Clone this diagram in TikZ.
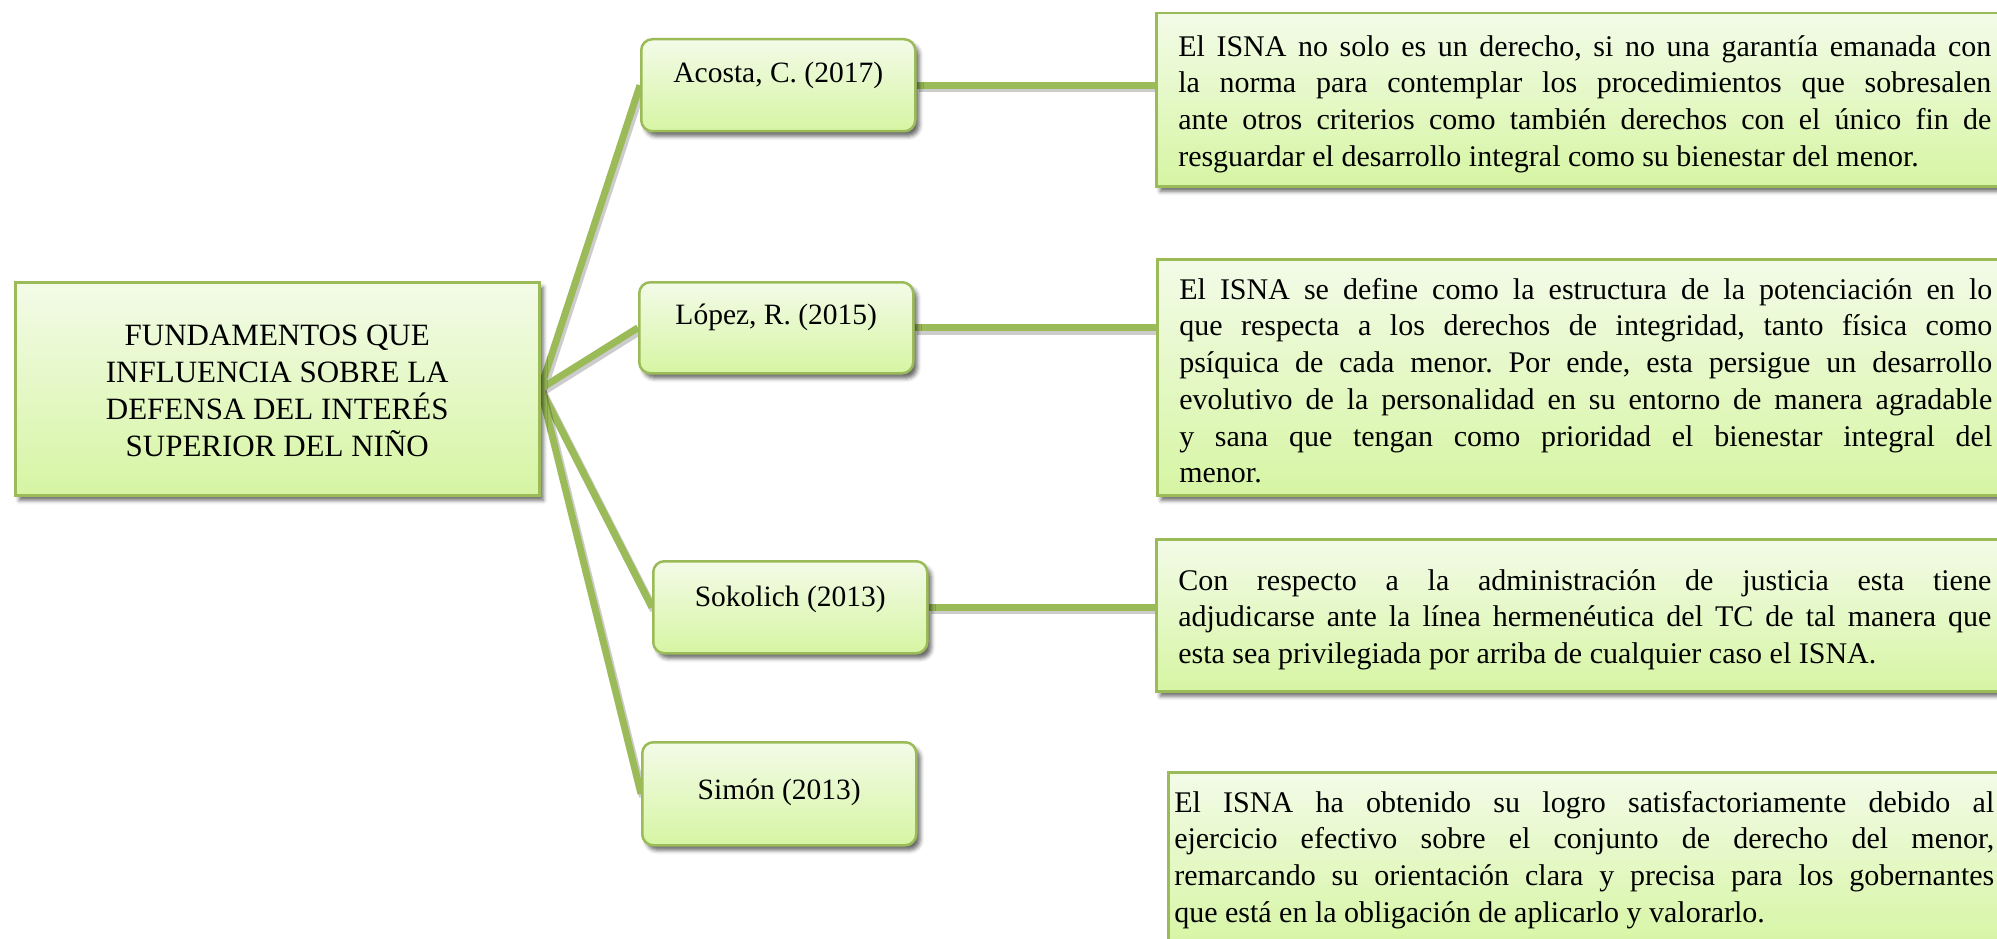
\documentclass[tikz,border=0pt]{standalone}
\usepackage{fontspec}
\setmainfont{Liberation Serif}
\usetikzlibrary{shadows.blur}
\definecolor{bgreen}{RGB}{155,187,89}
\definecolor{ftop}{RGB}{243,251,232}
\definecolor{fbot}{RGB}{214,245,163}
\pgfdeclarelayer{bg}
\pgfsetlayers{bg,main}
\frenchspacing
\tolerance=10000
\pretolerance=-1
\hyphenpenalty=10000
\tikzset{
  boxbase/.style={draw=bgreen, line width=2.5pt, top color=ftop, bottom color=fbot,
    inner sep=0pt, anchor=north west,
    blur shadow={shadow xshift=4pt, shadow yshift=-5pt, shadow blur radius=4pt, shadow opacity=60}},
  mainbox/.style={boxbase, minimum width=524pt, align=center,
    text height=174pt, text depth=39pt,
    font=\fontsize{31}{37}\selectfont},
  authbox/.style n args={2}{boxbase, rounded corners=11pt, minimum width=274pt,
    text height=#1, text depth=#2, font=\fontsize{29.5}{35}\selectfont},
  textbox/.style n args={2}{boxbase, inner xsep=22pt, text width=813pt, align=justify,
    text height=#1, text depth=#2,
    font=\fontsize{30}{36.7}\selectfont},
  conn/.style={draw=bgreen, line width=7pt,
    preaction={draw=black, opacity=0.2, line width=8pt, transform canvas={shift={(2pt,-3pt)}}}}
}
\begin{document}
\begin{tikzpicture}[x=1pt, y=-1pt]
\useasboundingbox (0,0) rectangle (1997,939);

\node[mainbox] (M) at (14,281) {FUNDAMENTOS QUE\\INFLUENCIA SOBRE LA\\DEFENSA DEL INTERÉS\\SUPERIOR DEL NIÑO};

\node[authbox={43pt}{49pt}] (A1) at (640,38) {Acosta, C. (2017)};
\node[authbox={42pt}{49pt}] (A2) at (638,281) {López, R. (2015)};
\node[authbox={45pt}{47pt}] (A3) at (652,560) {Sokolich (2013)};
\node[authbox={57pt}{46pt}] (A4) at (641,741) {Simón (2013)};

\node[textbox={43pt}{130pt}] (T1) at (1155,12) {%
\frenchspacing El ISNA no solo es un derecho, si no una garantía emanada con\linebreak
la norma para contemplar los procedimientos que sobresalen\linebreak
ante otros criterios como también derechos con el único fin de\linebreak
resguardar el desarrollo integral como su bienestar del menor.};

\node[textbox={40pt}{196pt}] (T2) at (1156,258) {%
\frenchspacing El ISNA se define como la estructura de la potenciación en lo\linebreak
que respecta a los derechos de integridad, tanto física como\linebreak
psíquica de cada menor. Por ende, esta persigue un desarrollo\linebreak
evolutivo de la personalidad en su entorno de manera agradable\linebreak
y sana que tengan como prioridad el bienestar integral del\linebreak
menor.};

\node[textbox={51pt}{101pt}] (T3) at (1155,538) {%
\frenchspacing Con respecto a la administración de justicia esta tiene\linebreak
adjudicarse ante la línea hermenéutica del TC de tal manera que\linebreak
esta sea privilegiada por arriba de cualquier caso el ISNA.};

\node[textbox={40pt}{136pt}, inner xsep=6pt, text width=820pt] (T4) at (1167,771) {%
\frenchspacing El ISNA ha obtenido su logro satisfactoriamente debido al\linebreak
ejercicio efectivo sobre el conjunto de derecho del menor,\linebreak
remarcando su orientación clara y precisa para los gobernantes\linebreak
que está en la obligación de aplicarlo y valorarlo.};

\begin{pgfonlayer}{bg}
\draw[conn] (M.east) -- (A1.west);
\draw[conn] (M.east) -- (A2.west);
\draw[conn] (M.east) -- (A3.west);
\draw[conn] (M.east) -- (A4.west);
\draw[conn] (A1.east) -- (A1.east -| T1.west);
\draw[conn] (A2.east) -- (A2.east -| T2.west);
\draw[conn] (A3.east) -- (A3.east -| T3.west);
\end{pgfonlayer}
\end{tikzpicture}
\end{document}
